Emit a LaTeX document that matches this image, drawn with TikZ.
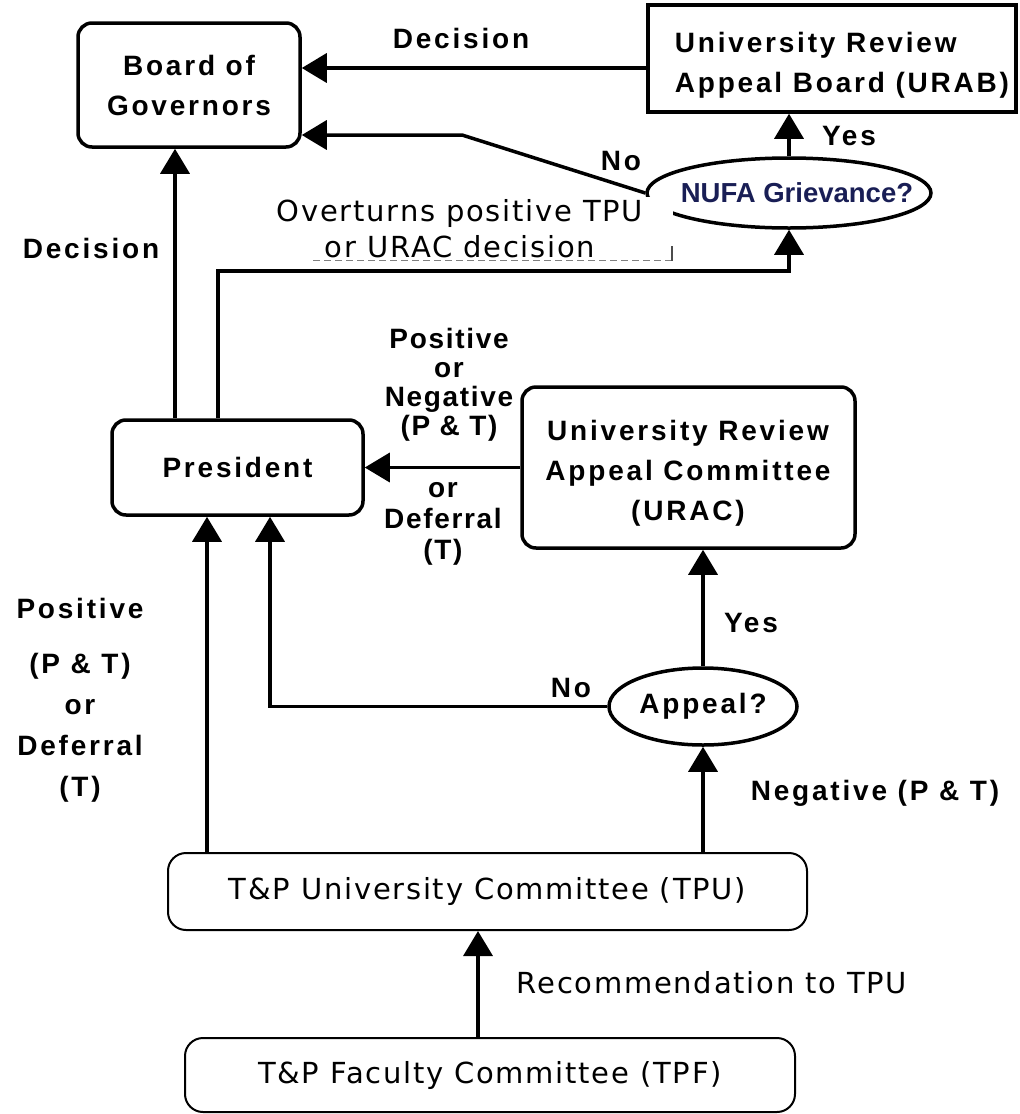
\documentclass[tikz,border=0pt]{standalone}
\usepackage{fontspec}
\usetikzlibrary{arrows.meta,shapes.geometric}
\newfontfamily\lblfont[LetterSpace=10]{Liberation Sans Bold}
\newfontfamily\lblnarrow[LetterSpace=6]{Liberation Sans Bold}
\newfontfamily\regfont[LetterSpace=6]{DejaVu Sans}
\newfontfamily\nufafont{Liberation Sans Bold}
\definecolor{navy}{RGB}{25,30,85}
\begin{document}
\begin{tikzpicture}[x=1pt,y=-1pt,
  box/.style={draw, line width=3.5pt, rounded corners=14pt, inner sep=0pt},
  tbox/.style={draw, line width=2pt, rounded corners=18pt, inner sep=0pt},
  oval/.style={draw, ellipse, line width=3.5pt, inner sep=0pt},
  arr/.style={line width=3.5pt, -{Triangle[length=25pt,width=29pt]}},
  lbl/.style={font=\lblfont\fontsize{28}{29}\selectfont, inner sep=0pt, align=center},
  boxtxt/.style={font=\lblfont\fontsize{28}{40}\selectfont, inner sep=0pt, align=center},
  reg/.style={font=\regfont\fontsize{29}{36}\selectfont, inner sep=0pt, align=center},
]
\useasboundingbox[fill=white] (0,0) rectangle (1020,1114);

% boxes
\node[box, boxtxt, minimum width=222pt, minimum height=124pt] (bog) at (189,85) {Board of\\Governors};
\node[draw, line width=3.5pt, minimum width=368pt, minimum height=107pt, inner sep=0pt] (urab) at (832,58.5) {};
\node[boxtxt, align=left, anchor=north] (urabt) at (842,32) {University Review\\Appeal Board (URAB)};
\node[oval, minimum width=284pt, minimum height=70pt] (nufa) at (789,193) {};
\node[font=\nufafont\fontsize{27.5}{30}\selectfont, text=navy, inner sep=0pt] (nufat) at (797,193) {NUFA Grievance?};
\node[box, minimum width=251pt, minimum height=95pt, font=\lblfont\fontsize{28}{40}\selectfont] (pres) at (237.5,467.5) {President};
\node[box, minimum width=333pt, minimum height=161pt] (urac) at (688.5,467.5) {};
\node[boxtxt, anchor=north] (uract) at (688,420) {University Review\\Appeal Committee\\(URAC)};
\node[oval, minimum width=188pt, minimum height=77pt, font=\lblfont\fontsize{28}{40}\selectfont] (appeal) at (703,706.5) {Appeal?};
\node[tbox, minimum width=639pt, minimum height=77pt, font=\regfont\fontsize{29}{36}\selectfont] (tpu) at (487.5,891.5) {T\&P University Committee (TPU)};
\node[tbox, minimum width=610pt, minimum height=74pt, font=\regfont\fontsize{29}{36}\selectfont] (tpf) at (490,1075) {T\&P Faculty Committee (TPF)};

% helper coordinates
\coordinate (kdec) at (0,68);
\coordinate (kbend) at (462,135);
\coordinate (kpn) at (218,271);
\coordinate (kpb) at (175,0);
\coordinate (kap) at (270,0);
\coordinate (ktp) at (207,0);
\coordinate (ktf) at (478,0);

% connectors
\draw[arr] (kdec -| urab.west) -- (kdec -| bog.east);
\draw[arr] (nufa.west) -- (kbend) -- (kbend -| bog.east);
\draw[arr] (nufa.north) -- (nufa.north |- urab.south);
\draw[arr] (kpn |- pres.north) -- (kpn) -| (nufa.south);
\draw[arr] (kpb |- pres.north) -- (kpb |- bog.south);
\draw[arr] (urac.west) -- (pres.east);
\draw[arr] (appeal.north) -- (appeal.north |- urac.south);
\draw[arr] (appeal.west) -| (kap |- pres.south);
\draw[arr] (ktp |- tpu.north) -- (ktp |- pres.south);
\draw[arr] (appeal.south |- tpu.north) -- (appeal.south);
\draw[arr] (ktf |- tpf.north) -- (ktf |- tpu.south);

% white patch with overturns text
\fill[white] (275,197) rectangle (673,259);
\draw[line width=1pt, black!50, dash pattern=on 7pt off 4pt] (313,260) -- (672,260);
\draw[line width=2pt, black!70] (672,246) -- (672,261);
\node[reg, anchor=north] (lover) at (460,199) {Overturns positive TPU\\or URAC decision};

% labels
\node[lbl, anchor=base] (ldec1) at (461,48) {Decision};
\node[lbl, anchor=base] (lyes1) at (849,145) {Yes};
\node[lbl, anchor=base] (lno1) at (621,170) {No};
\node[lbl, anchor=base] (ldec2) at (91,258) {Decision};
\node[lbl, anchor=north, font=\lblnarrow\fontsize{28}{29}\selectfont] (lpos) at (449,328) {Positive\\or\\Negative\\(P \& T)};
\node[lbl, anchor=north, font=\lblnarrow\fontsize{28}{31}\selectfont] (lor) at (443,482) {or\\Deferral\\(T)};
\node[lbl, anchor=north, font=\lblfont\fontsize{28}{41}\selectfont] (lleft) at (80,598) {Positive\\[14pt](P \& T)\\or\\Deferral\\(T)};
\node[lbl, anchor=base] (lyes2) at (751,632) {Yes};
\node[lbl, anchor=base] (lno2) at (571,697) {No};
\node[lbl, anchor=base] (lneg) at (875,800) {Negative (P \& T)};
\node[reg, anchor=base] (lrec) at (712,993) {Recommendation to TPU};
\end{tikzpicture}
\end{document}
